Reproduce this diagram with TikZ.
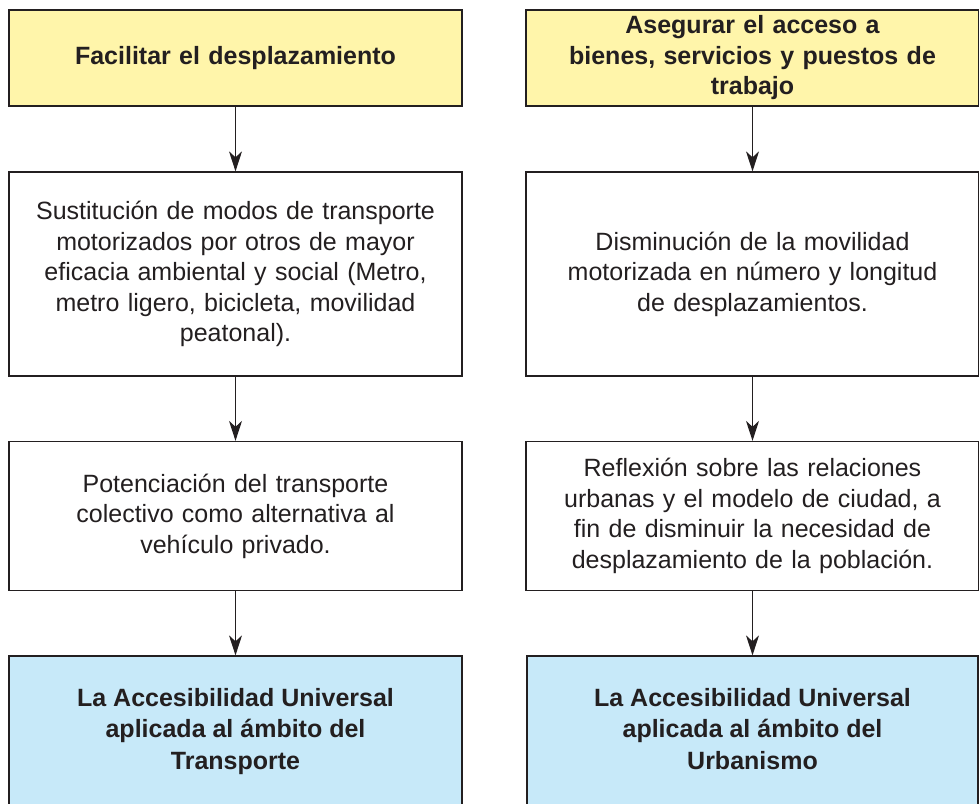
\documentclass[tikz,border=0pt]{standalone}
\usepackage{fontspec}
\setmainfont{Liberation Sans}
\usetikzlibrary{arrows.meta,positioning}
\definecolor{boxyellow}{RGB}{255,245,170}
\definecolor{boxblue}{RGB}{199,233,249}
\definecolor{lineink}{RGB}{35,31,32}
\tikzset{
  box/.style={draw=lineink, line width=1.3pt, minimum width=453pt, align=center, inner sep=0pt,
    font=\fontsize{25pt}{30.5pt}\selectfont, text=lineink, text width=445pt},
  ybox/.style={box, fill=boxyellow, font=\fontsize{25pt}{30.5pt}\selectfont\bfseries},
  wbox/.style={box, fill=white},
  bbox/.style={box, fill=boxblue},
  btext/.style={font=\fontsize{25pt}{31.5pt}\selectfont\bfseries, text=lineink, align=center, anchor=north, inner sep=0pt},
  flow/.style={draw=lineink, line width=1.2pt, -{Stealth[length=20pt,width=13pt,inset=6pt]}}
}
\begin{document}
\begin{tikzpicture}[x=1pt,y=-1pt]
\useasboundingbox (0,0) rectangle (979,803);
% left column
\node[ybox, minimum height=96pt] (l1) at (235.5,58) {Facilitar el desplazamiento};
\node[wbox, minimum height=204pt] (l2) at (235.5,274) {Sustitución de modos de transporte\\motorizados por otros de mayor\\eficacia ambiental y social (Metro,\\metro ligero, bicicleta, movilidad\\peatonal).};
\node[wbox, minimum height=149pt] (l3) at (235.5,516) {Potenciación del transporte\\colectivo como alternativa al\\vehículo privado.};
\node[bbox, minimum height=160pt] (l4) at (235.5,736) {};
\node[btext] (l4t) at (235.5,688) {La Accesibilidad Universal\\aplicada al ámbito del\\Transporte};
% right column
\node[ybox, minimum height=96pt] (r1) at (752.5,58) {Asegurar el acceso a\\bienes, servicios y puestos de\\trabajo};
\node[wbox, minimum height=204pt] (r2) at (752.5,274) {Disminución de la movilidad\\motorizada en número y longitud\\de desplazamientos.};
\node[wbox, minimum height=149pt] (r3) at (752.5,516) {Reflexión sobre las relaciones\\urbanas y el modelo de ciudad, a\\fin de disminuir la necesidad de\\desplazamiento de la población.};
\node[bbox, minimum height=160pt, minimum width=451pt] (r4) at (752.5,736) {};
\node[btext] (r4t) at (752.5,688) {La Accesibilidad Universal\\aplicada al ámbito del\\Urbanismo};
% connectors
\draw[flow] (l1.south) -- (l2.north);
\draw[flow] (l2.south) -- (l3.north);
\draw[flow] (l3.south) -- (l4.north);
\draw[flow] (r1.south) -- (r2.north);
\draw[flow] (r2.south) -- (r3.north);
\draw[flow] (r3.south) -- (r4.north);
\end{tikzpicture}
\end{document}
